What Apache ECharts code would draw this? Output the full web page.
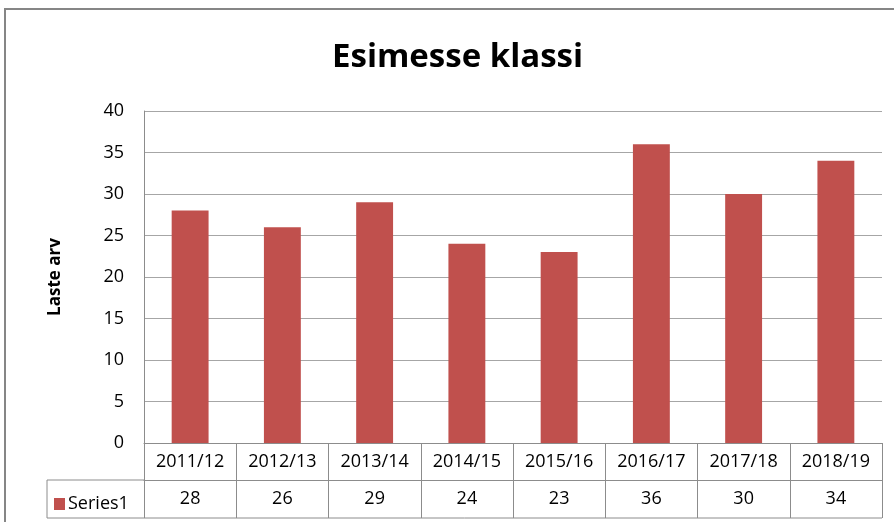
<!DOCTYPE html>
<html>
<head>
<meta charset="utf-8">
<script src="https://cdn.jsdelivr.net/npm/echarts@6/dist/echarts.min.js"></script>
<style>
html,body{margin:0;padding:0;background:#fff;}
#main{width:894px;height:522px;}
</style>
</head>
<body>
<div id="main"></div>
<script>
var categories = ['2011/12','2012/13','2013/14','2014/15','2015/16','2016/17','2017/18','2018/19'];
var values = [28, 26, 29, 24, 23, 36, 30, 34];
var yTicks = [0, 5, 10, 15, 20, 25, 30, 35, 40];
var seriesName = 'Series1';

var font = '"Open Sans", sans-serif';
var lineColor = '#8c8c8c';

var myChart = echarts.init(document.getElementById('main'));

var option = {
	animation: false,
	backgroundColor: '#fff',
	title: {
		text: 'Esimesse klassi',
		left: 332,
		top: 41,
		padding: 0,
		textStyle: {fontFamily: font, fontWeight: 'bold', fontSize: 33, color: '#000'}
	},
	legend: {
		data: [seriesName],
		left: 49,
		top: 490,
		icon: 'rect',
		itemWidth: 11,
		itemHeight: 12,
		itemGap: 4,
		selectedMode: false,
		textStyle: {fontFamily: font, fontSize: 18, color: '#000', padding: [0, 0, 0, -2]}
	},
	grid: {left: 144, right: 12, top: 111, bottom: 79},
	xAxis: [
		{
			type: 'category',
			data: categories,
			position: 'bottom',
			axisLine: {show: true, lineStyle: {color: lineColor}},
			axisTick: {show: true, length: 75, alignWithLabel: false, interval: 0, lineStyle: {color: lineColor}},
			axisLabel: {interval: 0, margin: 10, fontFamily: font, fontSize: 18, color: '#000'}
		},
		{
			type: 'category',
			data: values.map(String),
			position: 'bottom',
			offset: 37,
			axisLine: {show: true, lineStyle: {color: lineColor}},
			axisTick: {show: false},
			axisLabel: {interval: 0, margin: 10, fontFamily: font, fontSize: 18, color: '#000'}
		}
	],
	yAxis: {
		type: 'value',
		min: yTicks[0],
		max: yTicks[yTicks.length - 1],
		interval: 5,
		name: 'Laste arv',
		nameLocation: 'middle',
		nameGap: 80,
		nameTextStyle: {fontFamily: font, fontWeight: 'bold', fontSize: 17, color: '#000'},
		axisLine: {show: true, lineStyle: {color: lineColor}},
		axisTick: {show: false},
		axisLabel: {margin: 20, fontFamily: font, fontSize: 18, color: '#000'},
		splitLine: {lineStyle: {color: '#a6a6a6', width: 1}}
	},
	series: [
		{
			name: seriesName,
			type: 'bar',
			data: values,
			barWidth: '40%',
			itemStyle: {color: '#C0504D'}
		}
	]
};
myChart.setOption(option);

// table borders drawn from the axis geometry
var x0 = myChart.convertToPixel({xAxisIndex: 0}, categories[0]);
var step = myChart.convertToPixel({xAxisIndex: 0}, categories[1]) - x0;
var left = x0 - step / 2;
var right = left + step * categories.length;
var yBase = myChart.convertToPixel({yAxisIndex: 0}, 0);
var row2 = yBase + 37, row3 = yBase + 75;
var tableLeft = 47;
var ls = {stroke: lineColor, lineWidth: 1};
myChart.setOption({
	graphic: [
		{type: 'rect', shape: {x: 5, y: 9, width: 920, height: 540}, style: {fill: null, stroke: '#868686', lineWidth: 2}, silent: true},
		{type: 'line', shape: {x1: tableLeft, y1: row2, x2: left, y2: row2}, style: ls},
		{type: 'line', shape: {x1: tableLeft, y1: row2, x2: tableLeft, y2: row3}, style: ls},
		{type: 'line', shape: {x1: tableLeft, y1: row3, x2: right, y2: row3}, style: ls}
	]
});
</script>
</body>
</html>
